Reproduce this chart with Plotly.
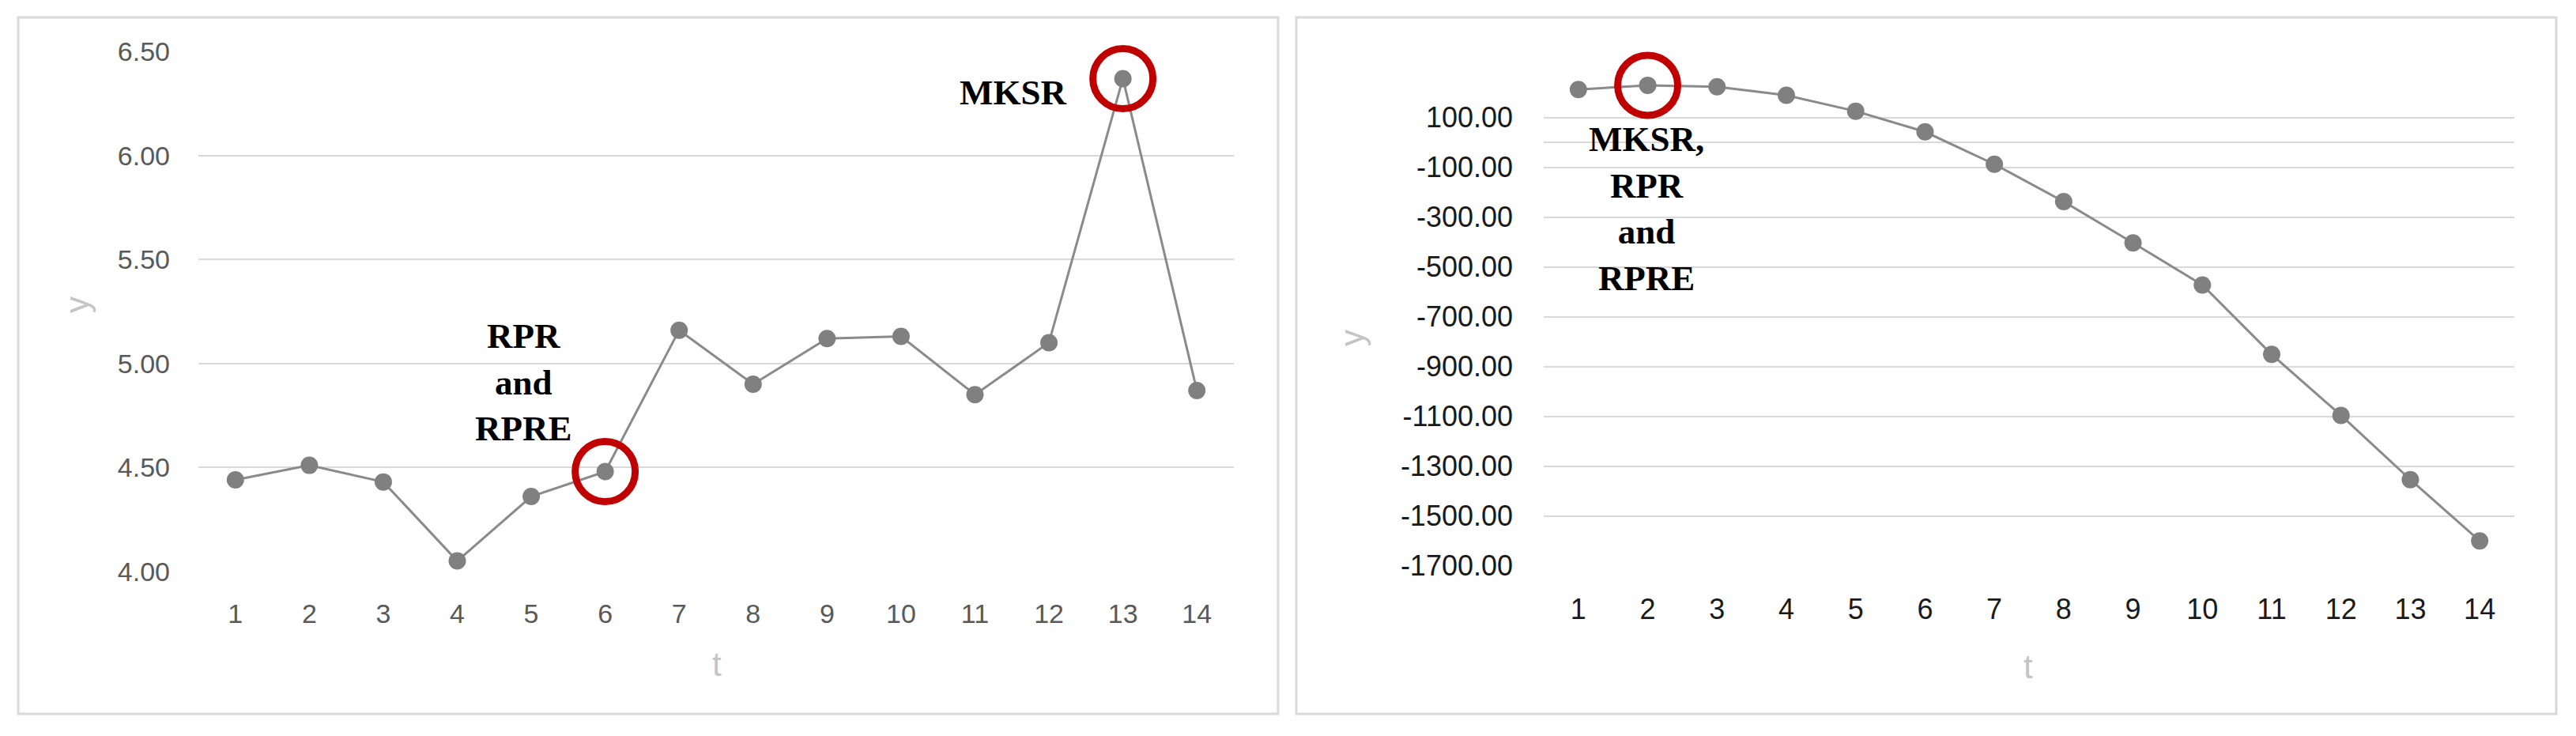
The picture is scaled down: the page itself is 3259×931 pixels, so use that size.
import plotly.graph_objects as go

# ── Data ─────────────────────────────────────────────────────
t_vals = list(range(1, 15))
y_left = [4.44, 4.51, 4.43, 4.05, 4.36, 4.48, 5.16, 4.90, 5.12, 5.13, 4.85, 5.10, 6.37, 4.87]
y_right = [213, 230, 224, 190, 126, 43, -87, -237, -403, -572, -851, -1096, -1354, -1600]

left_ticks = [4.0, 4.5, 5.0, 5.5, 6.0, 6.5]
right_ticks = [100, -100, -300, -500, -700, -900, -1100, -1300, -1500, -1700]

left_notes = [(6, "RPR<br>and<br>RPRE"), (13, "MKSR")]
right_notes = [(2, "MKSR,<br>RPR<br>and<br>RPRE")]

# ── Style ────────────────────────────────────────────────────
W, H = 3259, 931
PAGE_PAD = 8          # default <body> margin of the exported page
GRID = "#d9d9d9"
POINT = "#808080"
RING = "#c00000"
SANS = "Liberation Sans, Arial, sans-serif"
SERIF = "Liberation Serif, Times New Roman, serif"


def px_x(p):
    return (p - PAGE_PAD) / W


def px_y(p):
    return 1 - (p - PAGE_PAD) / H


fig = go.Figure()

for y, xa, ya in [(y_left, "x", "y"), (y_right, "x2", "y2")]:
    fig.add_trace(go.Scatter(
        x=t_vals, y=y, xaxis=xa, yaxis=ya,
        mode="lines+markers",
        line=dict(color="#8a8a8a", width=3),
        marker=dict(color=POINT, size=22),
        showlegend=False, hoverinfo="skip",
    ))

# red rings around highlighted points (drawn as open markers, not clipped)
for notes, y, xa, ya in [(left_notes, y_left, "x", "y"), (right_notes, y_right, "x2", "y2")]:
    ts = [t for t, _ in notes]
    fig.add_trace(go.Scatter(
        x=ts, y=[y[t - 1] for t in ts], xaxis=xa, yaxis=ya,
        mode="markers", cliponaxis=False,
        marker=dict(symbol="circle-open", size=76, color=RING,
                    line=dict(color=RING, width=9)),
        showlegend=False, hoverinfo="skip",
    ))

x_common = dict(range=[0.5, 14.5], tickvals=t_vals, showgrid=False,
                zeroline=False, showline=False, ticks="", ticklabelstandoff=30,
                automargin=False)

fig.update_layout(
    width=W, height=H,
    paper_bgcolor="white", plot_bgcolor="white",
    margin=dict(l=0, r=0, t=0, b=0, autoexpand=False),
    xaxis=dict(**x_common, domain=[px_x(251), px_x(1561)], anchor="y",
               tickfont=dict(family=SANS, size=34, color="#595959")),
    yaxis=dict(domain=[px_y(723), px_y(65)], anchor="x",
               range=[3.999, 6.501], tickvals=left_ticks, tickformat=".2f",
               gridcolor=GRID, gridwidth=2, zeroline=False, ticks="",
               ticklabelstandoff=35, automargin=False,
               tickfont=dict(family=SANS, size=34, color="#595959")),
    xaxis2=dict(**x_common, domain=[px_x(1953), px_x(3181)], anchor="y2",
                tickfont=dict(family=SANS, size=36, color="#1a1a1a")),
    yaxis2=dict(domain=[px_y(716), px_y(89)], anchor="x2",
                range=[-1701, 290], tickvals=right_ticks,
                ticktext=[f"{v:.2f}" for v in right_ticks],
                gridcolor=GRID, gridwidth=2, zeroline=True,
                zerolinecolor=GRID, zerolinewidth=2, ticks="",
                ticklabelstandoff=38, automargin=False,
                tickfont=dict(family=SANS, size=36, color="#1a1a1a")),
)

# chart frames
for x0, x1 in [(23, 1617), (1640, 3234)]:
    fig.add_shape(type="rect", xref="paper", yref="paper",
                  x0=px_x(x0), x1=px_x(x1), y0=px_y(903), y1=px_y(22),
                  line=dict(color=GRID, width=3), fillcolor="rgba(0,0,0,0)")

# bold labels
label_pos = {("L", 6): (662, 483), ("L", 13): (1282, 117), ("R", 2): (2083, 264)}
for side, notes in [("L", left_notes), ("R", right_notes)]:
    for t, text in notes:
        cx, cy = label_pos[(side, t)]
        fig.add_annotation(text=text, xref="paper", yref="paper",
                           x=px_x(cx), y=px_y(cy), showarrow=False,
                           xanchor="center", yanchor="middle", align="center",
                           font=dict(family=SERIF, size=45, color="black",
                                     weight="bold"))

# axis titles
for text, cx, cy, ang in [("t", 907, 840, 0), ("y", 97, 386, -90),
                          ("t", 2566, 843, 0), ("y", 1710, 428, -90)]:
    fig.add_annotation(text=text, xref="paper", yref="paper",
                       x=px_x(cx), y=px_y(cy), showarrow=False, textangle=ang,
                       xanchor="center", yanchor="middle",
                       font=dict(family=SANS, size=42, color="#c4c4c4"))

fig.write_html("out.html")
